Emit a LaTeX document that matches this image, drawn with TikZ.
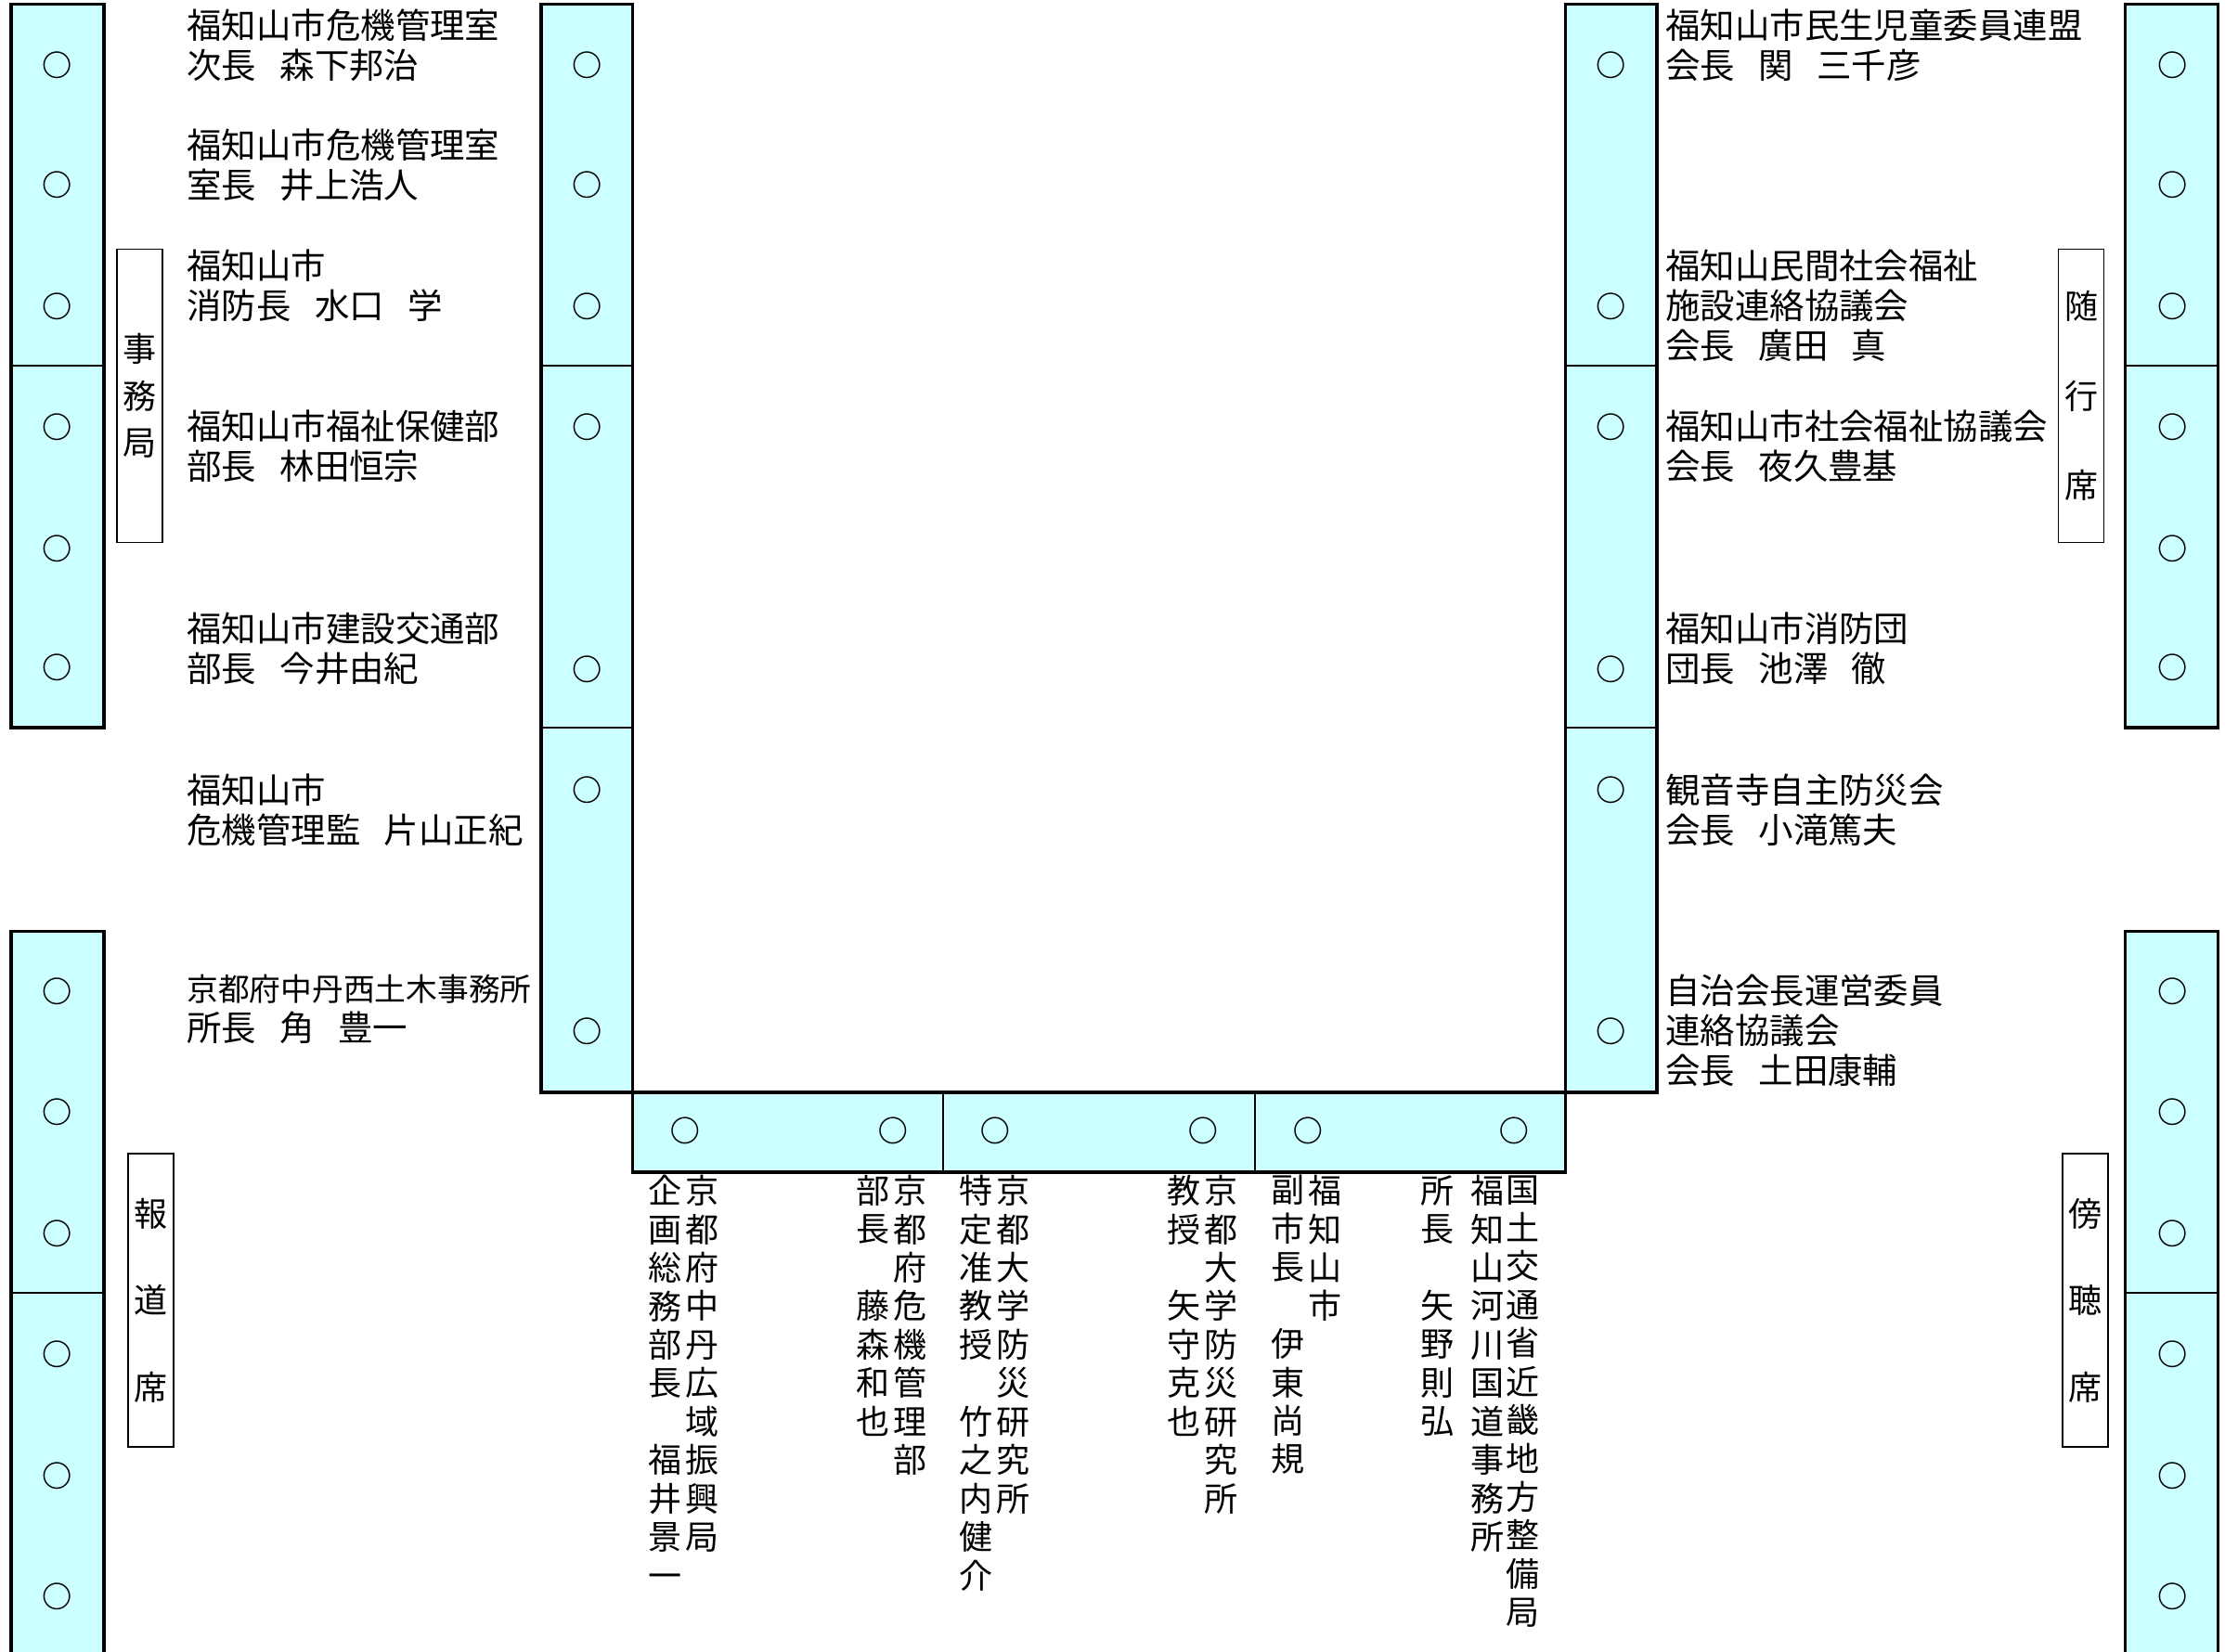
\documentclass[tikz,border=0pt]{standalone}
\usepackage{fontspec}
\setmainfont{Noto Sans CJK JP}
\definecolor{seatcyan}{RGB}{204,255,255}
\newcommand\jsp{\hspace{0.68em}}
\tikzset{
  seatbox/.style={fill=seatcyan, draw=black, line width=2.4pt},
  divider/.style={draw=black, line width=1.3pt},
  seat/.style={inner sep=0pt, font=\fontsize{21}{21}\bfseries\selectfont},
  lbl/.style={anchor=north west, inner sep=0pt, align=left, font=\fontsize{24.4}{28}\selectfont},
  vcol/.style={anchor=north, inner sep=0pt, align=center, font=\fontsize{23.5}{27}\selectfont},
  tagbox/.style={draw=black, line width=1pt, fill=white, minimum width=32pt, minimum height=206pt, inner sep=0pt, align=center}
}
\begin{document}
\begin{tikzpicture}[x=1pt,y=-1pt]
\useasboundingbox (0,0) rectangle (1562,1159.3);
% ---- side seat columns ----
\foreach \xl/\xr/\yt/\yb/\ym in {8/73/3/511/257, 8/73/654/1162/908, 1492/1557/3/511/257, 1492/1557/654/1162/908}{
  \draw[seatbox] (\xl,\yt) rectangle (\xr,\yb);
  \draw[divider] (\xl,\ym) -- (\xr,\ym);
}
\foreach \x in {40,1525}{
  \foreach \y in {46,130,215,300,385,469,696,781,866,951,1036,1121}{
    \node[seat] at (\x,\y) {○};
  }
}
% ---- central U table ----
\draw[seatbox] (380,3) rectangle (444,767);
\draw[seatbox] (1099,3) rectangle (1163,767);
\draw[seatbox] (444,767) rectangle (1099,823);
\draw[divider] (380,257) -- (444,257);
\draw[divider] (380,511) -- (444,511);
\draw[divider] (1099,257) -- (1163,257);
\draw[divider] (1099,511) -- (1163,511);
\draw[divider] (662,767) -- (662,823);
\draw[divider] (881,767) -- (881,823);
\foreach \y in {46,130,215,300,470,555,724}{
  \node[seat] at (412,\y) {○};
}
\foreach \y in {46,215,300,470,555,724}{
  \node[seat] at (1131,\y) {○};
}
\foreach \x in {481,627,699,845,918,1063}{
  \node[seat,rotate=90] at (\x,794) {○};
}
% ---- tag boxes ----
\node[tagbox, font=\fontsize{23.5}{33}\selectfont] (jimu) at (98,278) {事\\務\\局};
\node[tagbox, font=\fontsize{23.5}{61}\selectfont] (hodo) at (106,913) {報\\道\\席};
\node[tagbox, font=\fontsize{23.5}{63}\selectfont] (zuiko) at (1461,278) {随\\行\\席};
\node[tagbox, font=\fontsize{23.5}{61}\selectfont] (bocho) at (1464,913) {傍\\聴\\席};
% ---- left labels ----
\node[lbl] (l1) at (131,6) {福知山市危機管理室\\次長\jsp 森下邦治};
\node[lbl] (l2) at (131,90) {福知山市危機管理室\\室長\jsp 井上浩人};
\node[lbl] (l3) at (131,175) {福知山市\\消防長\jsp 水口\jsp 学};
\node[lbl] (l4) at (131,288) {福知山市福祉保健部\\部長\jsp 林田恒宗};
\node[lbl] (l5) at (131,430) {福知山市建設交通部\\部長\jsp 今井由紀};
\node[lbl] (l6) at (131,543) {福知山市\\危機管理監\jsp 片山正紀};
\node[lbl] (l7) at (131,684) {{\fontsize{22}{28}\selectfont 京都府中丹西土木事務所}\\所長\jsp 角\jsp 豊一};
% ---- right labels ----
\node[lbl] (r1) at (1169,6) {福知山市民生児童委員連盟\\会長\jsp 関\jsp 三千彦};
\node[lbl] (r2) at (1169,175) {福知山民間社会福祉\\施設連絡協議会\\会長\jsp 廣田\jsp 真};
\node[lbl] (r3) at (1169,288) {福知山市社会福祉協議会\\会長\jsp 夜久豊基};
\node[lbl] (r4) at (1169,430) {福知山市消防団\\団長\jsp 池澤\jsp 徹};
\node[lbl] (r5) at (1169,543) {観音寺自主防災会\\会長\jsp 小滝篤夫};
\node[lbl] (r6) at (1169,684) {自治会長運営委員\\連絡協議会\\会長\jsp 土田康輔};
% ---- bottom vertical labels ----
\node[vcol] (b1r) at (493,825) {京\\都\\府\\中\\丹\\広\\域\\振\\興\\局};
\node[vcol] (b1l) at (467,825) {企\\画\\総\\務\\部\\長\\　\\福\\井\\景\\一};
\node[vcol] (b2r) at (639,825) {京\\都\\府\\危\\機\\管\\理\\部};
\node[vcol] (b2l) at (613,825) {部\\長\\　\\藤\\森\\和\\也};
\node[vcol] (b3r) at (711,825) {京\\都\\大\\学\\防\\災\\研\\究\\所};
\node[vcol] (b3l) at (685,825) {特\\定\\准\\教\\授\\　\\竹\\之\\内\\健\\介};
\node[vcol] (b4r) at (857,825) {京\\都\\大\\学\\防\\災\\研\\究\\所};
\node[vcol] (b4l) at (831,825) {教\\授\\　\\矢\\守\\克\\也};
\node[vcol] (b5r) at (930,825) {福\\知\\山\\市};
\node[vcol] (b5l) at (904,825) {副\\市\\長\\　\\伊\\東\\尚\\規};
\node[vcol] (b6r) at (1069,825) {国\\土\\交\\通\\省\\近\\畿\\地\\方\\整\\備\\局};
\node[vcol] (b6m) at (1044,825) {福\\知\\山\\河\\川\\国\\道\\事\\務\\所};
\node[vcol] (b6l) at (1009,825) {所\\長\\　\\矢\\野\\則\\弘};
\end{tikzpicture}
\end{document}
